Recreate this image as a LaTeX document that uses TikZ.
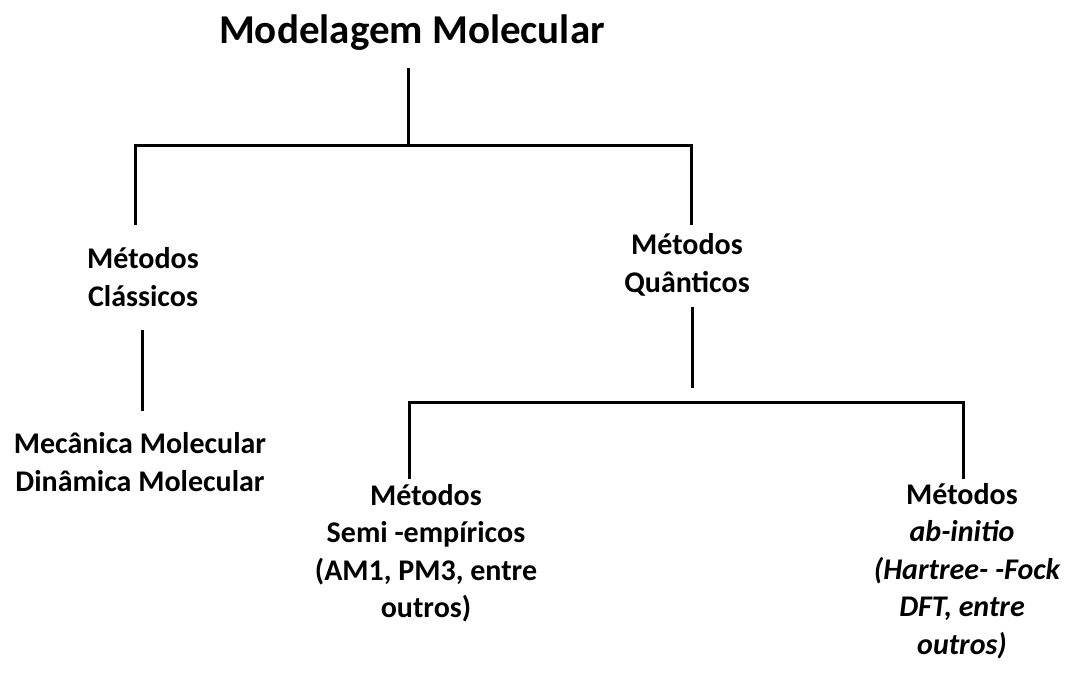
\documentclass[tikz,border=0pt]{standalone}
\usepackage{fontspec}
\setmainfont{Carlito}
\begin{document}
\begin{tikzpicture}[x=1pt,y=-1pt,
  conn/.style={line width=3pt, line join=miter},
  lbl/.style={font=\bfseries\fontsize{30}{37.5}\selectfont, align=center, inner sep=0pt},
  ttl/.style={font=\bfseries\fontsize{41}{48}\selectfont, inner sep=0pt}]
\useasboundingbox (0,0) rectangle (1070,677);
\fill[white] (0,0) rectangle (1070,677);

\node[ttl] (title) at (412,33) {Modelagem Molecular};
\node[lbl] (classicos) at (143,277) {Métodos\\Clássicos};
\node[lbl] (mm) at (140,462) {Mecânica Molecular\\Dinâmica Molecular};
\node[lbl] (quanticos) at (687,265) {Métodos\\Quânticos};
\node[lbl] (semi) at (426,553) {Métodos\\Semi -empíricos\\(AM1, PM3, entre\\outros)};
\node[lbl] (abinitio) at (962,571) {Métodos\\\itshape ab-initio\\\hspace*{10pt}\itshape (Hartree- -Fock\\\itshape DFT, entre\\\itshape outros)};

\coordinate (t0) at (408,68);
\coordinate (t1) at (408,145);
\coordinate (l0) at (135,145);
\coordinate (l1) at (135,225);
\coordinate (r0) at (691,145);
\coordinate (r1) at (691,225);
\coordinate (c0) at (142,330);
\coordinate (c1) at (142,411);
\coordinate (q0) at (692,307);
\coordinate (q1) at (692,388);
\coordinate (s0) at (409,479);
\coordinate (s1) at (409,402);
\coordinate (a1) at (963,402);
\coordinate (a0) at (963,479);

\draw[conn] (t0) -- (t1);
\draw[conn] (l1) -- (l0) -- (r0) -- (r1);
\draw[conn] (c0) -- (c1);
\draw[conn] (q0) -- (q1);
\draw[conn] (s0) -- (s1) -- (a1) -- (a0);
\end{tikzpicture}
\end{document}
